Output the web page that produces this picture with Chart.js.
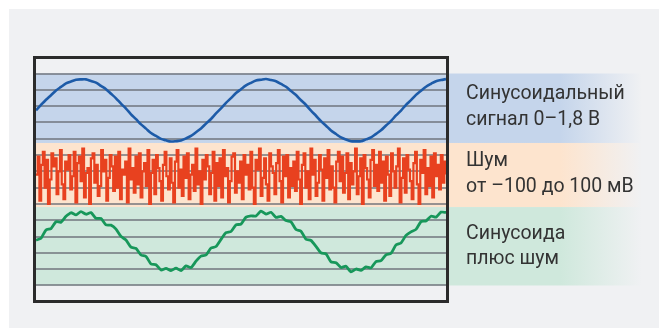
<!DOCTYPE html>
<html>
<head>
<meta charset="utf-8">
<script src="https://cdn.jsdelivr.net/npm/chart.js@4"></script>
<style>
  html, body { margin: 0; padding: 0; background: #fff; }
  #wrap { position: relative; width: 659px; height: 328px; }
  #wrap canvas { position: absolute; left: 0; top: 0; }
  .lbl {
    position: absolute; left: 466px; white-space: nowrap;
    font-family: Roboto, sans-serif; font-size: 19.5px; line-height: 20px; color: #333;
  }
</style>
</head>
<body>
<div id="wrap">
  <canvas id="scope" width="659" height="328"></canvas>
  <div class="lbl" style="top:83px">Синусоидальный</div>
  <div class="lbl" style="top:109px">сигнал 0–1,8 В</div>
  <div class="lbl" style="top:150px">Шум</div>
  <div class="lbl" style="top:176px">от –100 до 100 мВ</div>
  <div class="lbl" style="top:223px">Синусоида</div>
  <div class="lbl" style="top:248px">плюс шум</div>
</div>
<script>
// уровни сетки (деления экрана)
const gridLevels = [0, 1, 2, 3, 4, 5, 6, 7, 8, 9, 10, 11, 12, 13];
// границы полос: синус / шум / синус+шум
const bandEdges = [13, 8.74, 4.81, 0];

// синусоидальный сигнал 0–1,8 В (в делениях экрана)
const sineClean = [
  10.74, 11.07, 11.39, 11.67, 11.96, 12.18, 12.39, 12.51, 12.62, 12.64,
  12.64, 12.54, 12.44, 12.24, 12.04, 11.76, 11.48, 11.15, 10.85, 10.50,
  10.20, 9.88, 9.62, 9.35, 9.17, 8.99, 8.90, 8.83, 8.85, 8.89,
  9.02, 9.17, 9.40, 9.63, 9.93, 10.21, 10.55, 10.86, 11.20, 11.49,
  11.80, 12.04, 12.27, 12.43, 12.57, 12.62, 12.66, 12.60, 12.53, 12.36,
  12.19, 11.93, 11.68, 11.36, 11.07, 10.72, 10.41, 10.08, 9.80, 9.51,
  9.29, 9.08, 8.95, 8.85, 8.84, 8.85, 8.96, 9.08, 9.30, 9.52,
  9.81, 10.09, 10.43, 10.73, 11.08, 11.37, 11.69, 11.94, 12.19, 12.37,
  12.53, 12.60, 12.66
];

// шум от −100 до 100 мВ
const noiseMv = [
  6.8, 7.9, 5.2, 7.4, 8.2, 6.0, 7.7, 5.0, 6.5, 8.1, 7.3, 7.8, 5.6, 7.0, 8.3, 6.2, 5.3, 7.6, 7.1, 8.0,
  5.9, 6.7, 8.2, 5.1, 7.5, 7.9, 6.4, 8.4, 5.4, 6.9, 7.2, 5.0, 7.8, 8.1, 6.3, 7.4, 5.5, 6.1, 8.3, 7.0,
  7.7, 5.2, 6.6, 8.0, 7.3, 5.8, 7.9, 6.0, 8.2, 5.3, 7.1, 6.8, 7.6, 5.1, 8.4, 6.5, 7.2, 5.7, 7.9, 6.2,
  8.1, 5.4, 7.0, 7.5, 6.1, 8.3, 5.0, 6.9, 7.7, 5.6, 8.0, 7.2, 6.4, 5.2, 7.4, 8.2, 6.7, 5.9, 7.8, 6.3,
  5.1, 7.6, 8.3, 6.0, 7.1, 5.5, 7.9, 6.6, 8.1, 5.3, 6.8, 7.4, 5.8, 8.4, 6.2, 7.0, 5.0, 7.7, 6.5, 8.0,
  7.3, 5.6, 6.9, 8.2, 5.2, 7.5, 6.1, 7.8, 5.4, 8.3, 6.7, 7.2, 5.1, 6.4, 7.9, 8.1, 5.7, 7.0, 6.3, 7.6,
  5.3, 8.0, 6.8, 7.4, 5.9, 8.2, 6.0, 5.0, 7.7, 7.1, 8.4, 5.5, 6.6, 7.8, 6.2, 5.2, 8.1, 7.3, 6.9, 5.6,
  7.5, 8.3, 6.4, 5.1, 7.9, 6.7, 8.0, 5.4, 7.2, 6.1, 7.6, 5.8, 8.2, 6.5, 5.0, 7.4, 8.1, 6.0, 7.0, 5.3,
  8.4, 6.8, 7.7, 5.5, 6.3, 8.0, 7.1, 5.2, 7.8, 6.6, 8.3, 5.9, 7.3, 6.0, 5.1, 7.6, 8.2, 6.4, 7.9, 5.7,
  6.9, 8.1, 5.3, 7.5, 6.2, 7.0, 8.4, 5.6, 6.7, 7.8, 5.0, 8.0, 7.2, 6.5, 5.4, 7.7, 8.3, 6.1, 7.4, 5.8,
  8.2, 6.3, 7.6, 5.2, 7.9, 6.8, 5.5, 8.1, 7.0, 6.0, 7.3, 8.4, 5.1, 6.6, 7.8, 5.7, 8.0, 7.1, 6.4, 5.3,
  7.5, 8.2, 6.2, 5.0, 7.7, 6.9, 8.3, 5.6, 7.2, 6.1, 7.9, 5.4, 8.1, 6.7, 7.4, 5.9, 8.0, 6.3, 7.6, 6.8
];

// синусоида плюс шум
const sineNoisy = [
  2.78, 2.90, 3.41, 3.49, 3.91, 3.88, 4.24, 4.46, 4.33, 4.53,
  4.37, 4.47, 4.12, 4.11, 3.72, 3.70, 3.46, 3.01, 2.79, 2.35,
  2.27, 1.87, 1.78, 1.32, 1.27, 0.95, 1.05, 0.92, 1.06, 0.91,
  1.20, 1.10, 1.49, 1.80, 1.87, 2.30, 2.39, 2.83, 3.24, 3.31,
  3.72, 3.76, 4.19, 4.27, 4.26, 4.56, 4.38, 4.49, 4.18, 4.24,
  3.98, 3.90, 3.43, 3.33, 2.83, 2.76, 2.40, 2.00, 1.94, 1.45,
  1.40, 1.10, 1.18, 0.83, 1.01, 0.93, 1.14, 1.08, 1.47, 1.52,
  1.88, 1.97, 2.49, 2.61, 3.07, 3.29, 3.44, 3.92, 3.96, 4.25,
  4.19, 4.50, 4.48
];

const xMax = sineClean.length - 1;
const toPts = (arr) => arr.map((v, i) => ({ x: i * xMax / (arr.length - 1), y: v }));

const bandColors = ['197,213,235', '253,228,206', '207,232,220'];

const scopeBack = {
  id: 'scopeBack',
  beforeDraw(chart) {
    const { ctx, chartArea: a, scales: { y } } = chart;
    ctx.save();
    ctx.fillStyle = '#fff';
    ctx.fillRect(0, 0, chart.width, chart.height);
    ctx.fillStyle = '#f0f1f3';
    ctx.fillRect(9, 9, chart.width - 9, chart.height - 9);
    const right = 642;
    for (let b = 0; b < 3; b++) {
      const top = y.getPixelForValue(bandEdges[b]);
      const bot = y.getPixelForValue(bandEdges[b + 1]);
      const g = ctx.createLinearGradient(a.left, 0, right, 0);
      g.addColorStop(0, `rgba(${bandColors[b]},1)`);
      g.addColorStop((560 - a.left) / (right - a.left), `rgba(${bandColors[b]},1)`);
      g.addColorStop(1, `rgba(${bandColors[b]},0)`);
      ctx.fillStyle = g;
      ctx.fillRect(a.left, top, right - a.left, bot - top);
    }
    ctx.restore();
  },
  afterDraw(chart) {
    const { ctx, chartArea: a } = chart;
    ctx.save();
    ctx.strokeStyle = '#2b2b2b';
    ctx.lineWidth = 3;
    ctx.strokeRect(a.left - 1.5, a.top - 1.5, a.right - a.left + 3, a.bottom - a.top + 3);
    ctx.restore();
  }
};

new Chart(document.getElementById('scope'), {
  type: 'line',
  data: {
    datasets: [
      { data: toPts(noiseMv), borderColor: '#e8411f', borderWidth: 2.2, stepped: true },
      { data: toPts(sineNoisy), borderColor: '#17975a', borderWidth: 2.8, tension: 0.2 },
      { data: toPts(sineClean), borderColor: '#1d5ba8', borderWidth: 2.6, tension: 0.3 }
    ]
  },
  options: {
    responsive: false,
    animation: false,
    events: [],
    elements: { point: { radius: 0 } },
    layout: { padding: { left: 36, right: 213, top: 59, bottom: 28 } },
    plugins: { legend: { display: false }, tooltip: { enabled: false } },
    scales: {
      x: { type: 'linear', min: 0, max: xMax, display: false },
      y: {
        min: -0.89, max: 13.89,
        afterBuildTicks: (s) => { s.ticks = gridLevels.map(v => ({ value: v })); },
        ticks: { display: false },
        border: { display: false },
        grid: { drawTicks: false, color: 'rgba(105,110,118,0.7)', lineWidth: 2 }
      }
    }
  },
  plugins: [scopeBack]
});
</script>
</body>
</html>
